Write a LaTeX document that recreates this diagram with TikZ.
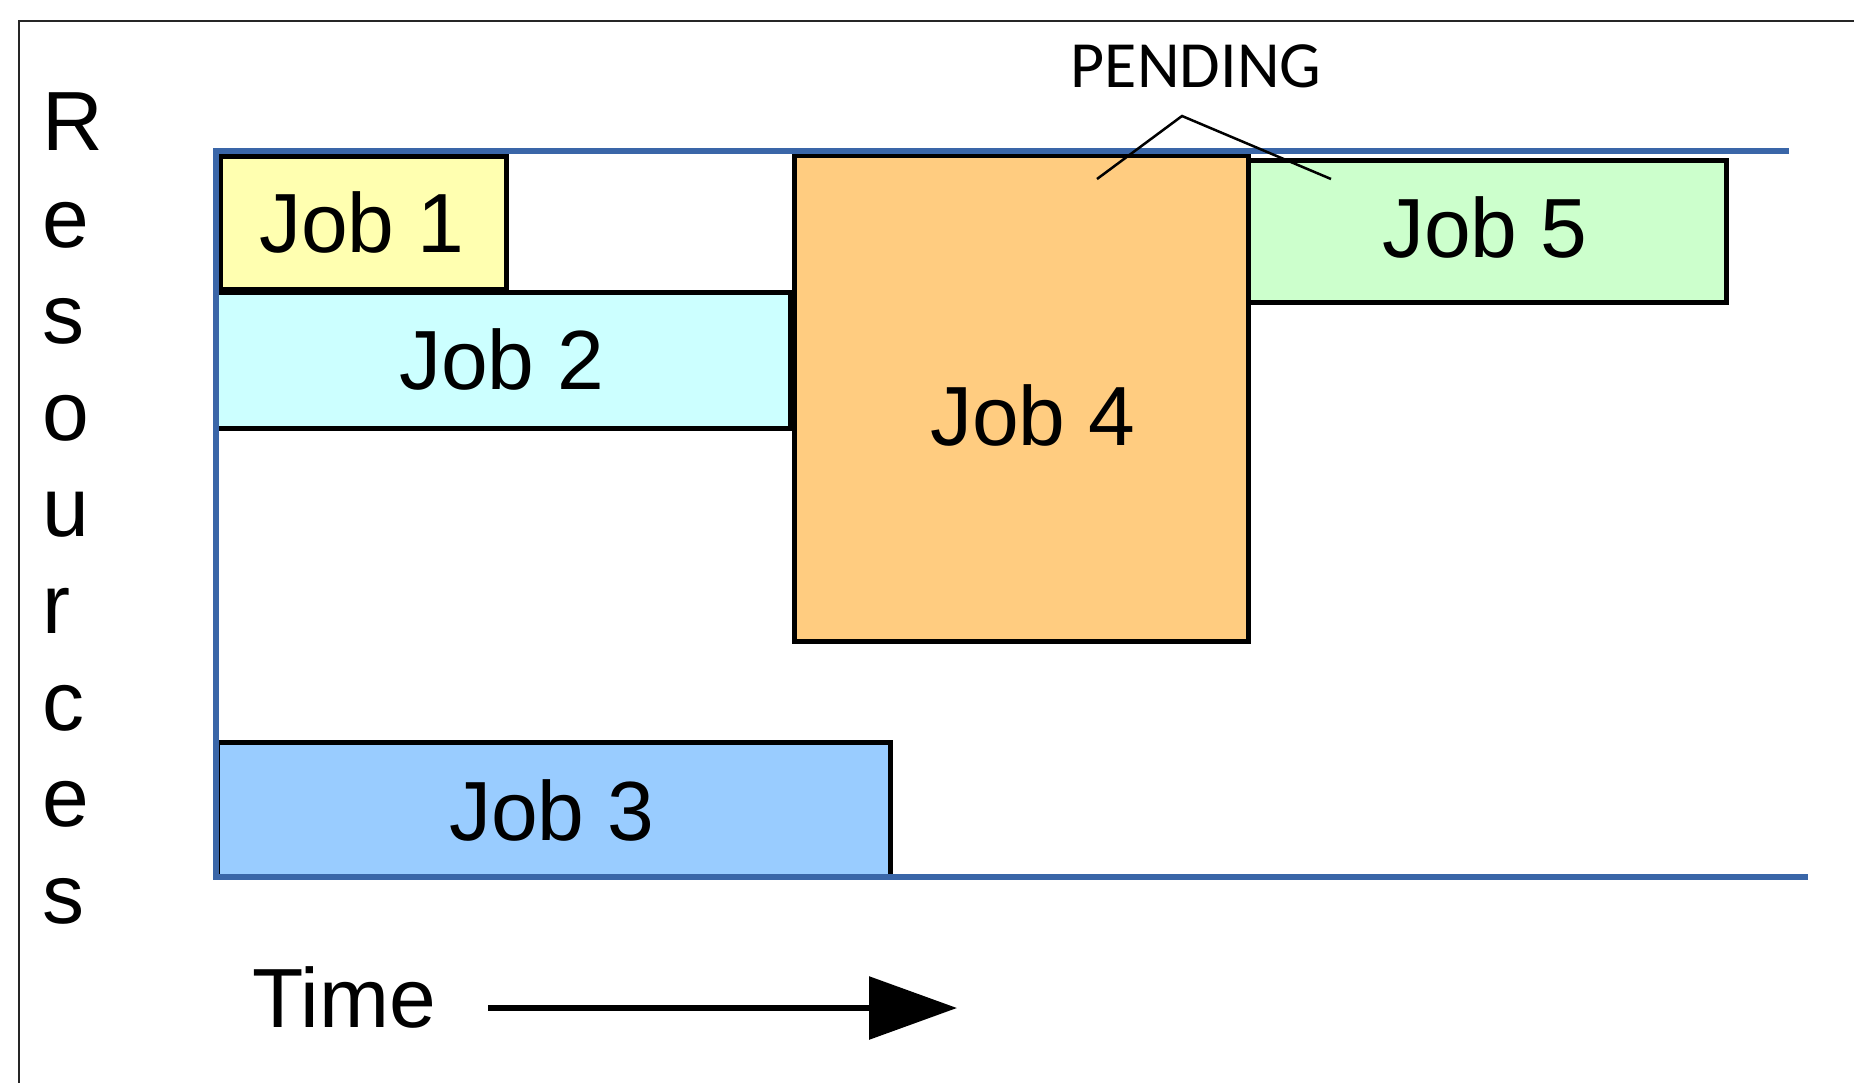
\documentclass[tikz,border=0pt]{standalone}
\usepackage{fontspec}
\setmainfont{Liberation Sans}
\newfontfamily\pendfont{Carlito}
\usetikzlibrary{arrows.meta}
\definecolor{axisblue}{HTML}{3A66A8}
\definecolor{jyellow}{HTML}{FFFFB0}
\definecolor{jcyan}{HTML}{CCFFFF}
\definecolor{jblue}{HTML}{99CCFF}
\definecolor{jorange}{HTML}{FFCC80}
\definecolor{jgreen}{HTML}{CCFFCC}
\tikzset{
  jobbox/.style={draw=black, line width=5pt},
  axisline/.style={draw=axisblue, line width=6pt},
  biglbl/.style={font=\fontsize{84}{90}\selectfont, inner sep=0pt},
  letter/.style={font=\fontsize{84}{90}\selectfont, inner sep=0pt, anchor=base west},
  pendline/.style={draw=black, line width=2.5pt},
}
\begin{document}
\begin{tikzpicture}[x=1pt,y=-1pt]
\useasboundingbox (0,0) rectangle (1854,1082);
% frame
\draw[line width=2.5pt, draw=black!85] (19,1090) -- (19,21) -- (1860,21);
% jobs
\draw[jobbox, fill=jyellow] (220,156) rectangle (506,289);
\draw[jobbox, fill=jcyan] (216,292) rectangle (790,428);
\draw[jobbox, fill=jorange] (794,155) rectangle (1248,641);
\draw[jobbox, fill=jgreen] (1248,160) rectangle (1726,302);
\draw[jobbox, fill=jblue] (217,742) rectangle (890,877);
% axes
\coordinate (ax0) at (216,877);
\coordinate (axtop) at (216,151);
\coordinate (axtopr) at (1789,151);
\coordinate (axbotr) at (1808,877);
\draw[axisline] (axtopr) -- (axtop) -- (ax0) -- (axbotr);
% labels
\node[biglbl] (l1) at (362,222) {Job 1};
\node[biglbl] (l2) at (502,359) {Job 2};
\node[biglbl] (l3) at (552,810) {Job 3};
\node[biglbl] (l4) at (1033,415) {Job 4};
\node[biglbl] (l5) at (1485,227) {Job 5};
% pending
\node[font=\pendfont\fontsize{66}{70}\selectfont, inner sep=0pt, anchor=base] (pend) at (1196,87) {PENDING};
\coordinate (pk) at (1182,116);
\coordinate (pa) at (1097,179);
\coordinate (pb) at (1331,179);
\draw[pendline] (pa) -- (pk) -- (pb);
% resources
\node[letter] (r1) at (42,150) {R};
\node[letter] (r2) at (42,247) {e};
\node[letter] (r3) at (42,343) {s};
\node[letter] (r4) at (42,440) {o};
\node[letter] (r5) at (42,536) {u};
\node[letter] (r6) at (42,633) {r};
\node[letter] (r7) at (42,730) {c};
\node[letter] (r8) at (42,826) {e};
\node[letter] (r9) at (42,923) {s};
% time
\node[biglbl, anchor=base west] (time) at (252,1027) {Time};
\coordinate (ts) at (488,1008);
\coordinate (te) at (957,1008);
\draw[line width=6pt, -{Triangle[length=88pt,width=62pt]}] (ts) -- (te);
\end{tikzpicture}
\end{document}
